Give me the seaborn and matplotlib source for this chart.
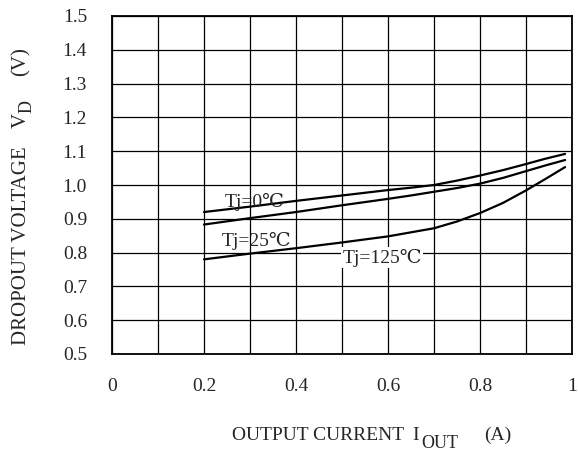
import numpy as np
import pandas as pd
import matplotlib
matplotlib.use('Agg')
import matplotlib.pyplot as plt
import seaborn as sns

# ── Data ─────────────────────────────────────────────────────
i_out   = [0.2, 0.3, 0.4, 0.5, 0.6, 0.65, 0.7, 0.75, 0.8, 0.85, 0.9, 0.94, 0.985]
vd_0    = [0.920, 0.936, 0.953, 0.969, 0.985, 0.992, 1.000, 1.013, 1.028, 1.044, 1.062, 1.077, 1.092]
vd_25   = [0.883, 0.902, 0.920, 0.940, 0.959, 0.969, 0.980, 0.991, 1.004, 1.021, 1.041, 1.057, 1.074]
vd_125  = [0.780, 0.797, 0.813, 0.830, 0.848, 0.860, 0.872, 0.892, 0.917, 0.947, 0.984, 1.016, 1.053]
x_ticks = [0, 0.2, 0.4, 0.6, 0.8, 1]
x_tick_labels = ['0', '0.2', '0.4', '0.6', '0.8', '1']
y_ticks = [0.5, 0.6, 0.7, 0.8, 0.9, 1.0, 1.1, 1.2, 1.3, 1.4, 1.5]

df = pd.DataFrame({
    'I': i_out * 3,
    'VD': vd_0 + vd_25 + vd_125,
    'Tj': ['0'] * len(i_out) + ['25'] * len(i_out) + ['125'] * len(i_out),
})

sns.set_style('white')
plt.rcParams['font.family'] = ['Liberation Serif', 'DejaVu Serif']

W, H = 578, 458
fig = plt.figure(figsize=(W / 100, H / 100), dpi=100)
ax = fig.add_axes([112 / W, 1 - 354 / H, 460 / W, 338 / H])

sns.lineplot(data=df, x='I', y='VD', units='Tj', estimator=None,
             color='black', linewidth=1.6, ax=ax, legend=False)

ax.set_xlim(0, 1)
ax.set_ylim(0.5, 1.5)
ax.set_xlabel('')
ax.set_ylabel('')
ax.set_xticks(np.arange(0, 1.01, 0.1), minor=True)
ax.set_xticks(x_ticks)
ax.set_xticklabels(x_tick_labels, fontsize=14)
ax.set_yticks(y_ticks)
ax.set_yticklabels([f'{v:.1f}' for v in y_ticks], fontsize=14)
ax.tick_params(axis='both', which='both', length=0)
ax.tick_params(axis='x', pad=17)
ax.tick_params(axis='y', pad=18)
ax.grid(True, which='both', color='black', linewidth=0.9)
for s in ax.spines.values():
    s.set_color('black')
    s.set_linewidth(1.3)

ax.text(0.31, 0.95, 'Tj=0℃', fontsize=14, ha='center', va='center')
ax.text(0.315, 0.835, 'Tj=25℃', fontsize=14, ha='center', va='center')
ax.text(0.587, 0.785, 'Tj=125℃', fontsize=14, ha='center', va='center',
        bbox=dict(facecolor='white', edgecolor='none', pad=1))

# ── axis titles, placed piece by piece (large subscripts) ──
def px(x, y):
    return x / W, 1 - y / H

xt = dict(ha='left', va='baseline')
fig.text(*px(232, 440), 'OUTPUT CURRENT', fontsize=14, **xt)
fig.text(*px(412, 440), 'I', fontsize=14, **xt)
fig.text(*px(421, 448), 'OUT', fontsize=13, **xt)
fig.text(*px(484, 440), '(A)', fontsize=14, **xt)

yt = dict(ha='left', va='baseline', rotation=90, rotation_mode='anchor')
fig.text(*px(26, 345), 'DROPOUT VOLTAGE', fontsize=15, **yt)
fig.text(*px(26, 128), 'V', fontsize=15, **yt)
fig.text(*px(32, 113), 'D', fontsize=13, **yt)
fig.text(*px(26, 76), '(V)', fontsize=15, **yt)

plt.savefig('out.png', dpi=100)
plt.close()
